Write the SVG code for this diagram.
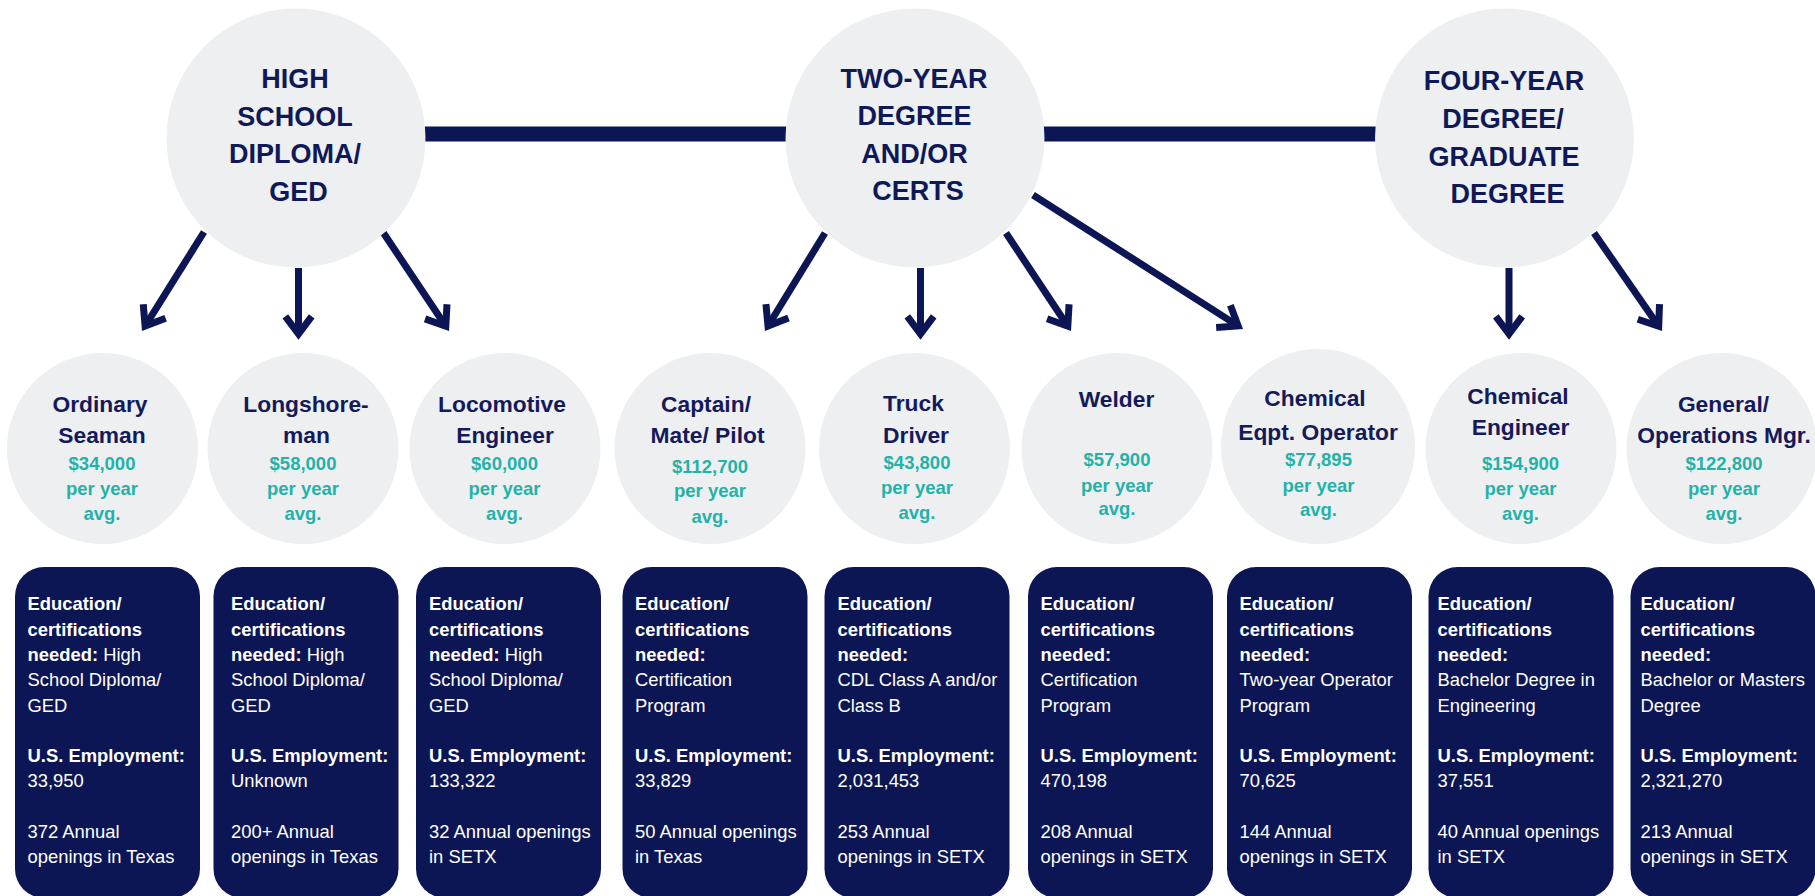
<svg xmlns="http://www.w3.org/2000/svg" width="1815" height="896" viewBox="0 0 1815 896">
<defs>
<style>
.circ{fill:#eeeff1}
.top{font-family:"Liberation Sans",Arial,sans-serif;font-weight:bold;font-size:27px;fill:#0f1957;text-anchor:middle}
.title{font-family:"Liberation Sans",Arial,sans-serif;font-weight:bold;font-size:22.8px;fill:#141a5a;text-anchor:middle}
.pay{font-family:"Liberation Sans",Arial,sans-serif;font-weight:bold;font-size:18.5px;fill:#1fb3aa;text-anchor:middle}
.box{fill:#0d1654}
.info{font-family:"Liberation Sans",Arial,sans-serif;font-size:18.4px;fill:#ffffff}
.b{font-weight:bold}
.bar{stroke:#0d1654;stroke-width:15}
.arr{stroke:#0d1654;stroke-width:7;fill:none;marker-end:url(#ah)}
</style>
<marker id="ah" markerUnits="userSpaceOnUse" orient="auto" markerWidth="40" markerHeight="40" refX="0" refY="0" style="overflow:visible">
<path d="M-17.6,-13.2 L0,0 L-17.6,13.2" fill="none" stroke="#0d1654" stroke-width="7" stroke-linejoin="miter"/>
</marker>
</defs>
<rect width="1815" height="896" fill="#ffffff"/>

<g id="connectors">
<line class="bar" x1="296" y1="134" x2="1504" y2="134"/>
<line class="arr" x1="204" y1="232" x2="145.1" y2="326.1"/>
<line class="arr" x1="298.5" y1="268" x2="298.5" y2="334"/>
<line class="arr" x1="383.5" y1="233" x2="445.8" y2="326.2"/>
<line class="arr" x1="825" y1="233" x2="768" y2="326"/>
<line class="arr" x1="920.5" y1="268" x2="920.5" y2="334"/>
<line class="arr" x1="1006" y1="233" x2="1067.8" y2="326.2"/>
<line class="arr" x1="1033" y1="195" x2="1238.1" y2="325.9"/>
<line class="arr" x1="1509" y1="268" x2="1509" y2="334"/>
<line class="arr" x1="1594" y1="233" x2="1658.7" y2="326.2"/>
</g>

<g id="level-hs">
<circle class="circ" cx="296" cy="138" r="129.5"/>
<text class="top"><tspan x="295" y="88">HIGH</tspan><tspan x="295" y="125.5">SCHOOL</tspan><tspan x="295" y="163">DIPLOMA/</tspan><tspan x="298.5" y="201">GED</tspan></text>
</g>
<g id="level-2yr">
<circle class="circ" cx="915" cy="138" r="129.5"/>
<text class="top"><tspan x="914" y="87.5">TWO-YEAR</tspan><tspan x="914.5" y="124.5">DEGREE</tspan><tspan x="914.5" y="162.5">AND/OR</tspan><tspan x="918" y="200">CERTS</tspan></text>
</g>
<g id="level-4yr">
<circle class="circ" cx="1504.5" cy="138" r="129.5"/>
<text class="top"><tspan x="1504" y="90">FOUR-YEAR</tspan><tspan x="1503" y="128">DEGREE/</tspan><tspan x="1504" y="165.5">GRADUATE</tspan><tspan x="1507.5" y="203">DEGREE</tspan></text>
</g>

<g id="job-seaman">
<circle class="circ" cx="102.5" cy="448.5" r="95.5"/>
<text class="title"><tspan x="100" y="411.5">Ordinary</tspan><tspan x="102" y="443">Seaman</tspan></text>
<text class="pay"><tspan x="102" y="470">$34,000</tspan><tspan x="102" y="495">per year</tspan><tspan x="102" y="519.5">avg.</tspan></text>
<rect class="box" x="15" y="567" width="185" height="331" rx="29"/>
<text class="info"><tspan class="b" x="27.5" y="610">Education/</tspan><tspan class="b" x="27.5" y="635.5">certifications</tspan><tspan x="27.5" y="661"><tspan class="b">needed:</tspan> High</tspan><tspan x="27.5" y="686">School Diploma/</tspan><tspan x="27.5" y="711.5">GED</tspan><tspan class="b" x="27.5" y="762">U.S. Employment:</tspan><tspan x="27.5" y="787">33,950</tspan><tspan x="27.5" y="838">372 Annual</tspan><tspan x="27.5" y="863">openings in Texas</tspan></text>
</g>

<g id="job-longshoreman">
<circle class="circ" cx="303" cy="448.5" r="95.5"/>
<text class="title"><tspan x="306" y="411.5">Longshore-</tspan><tspan x="306.5" y="443">man</tspan></text>
<text class="pay"><tspan x="303" y="470">$58,000</tspan><tspan x="303" y="495">per year</tspan><tspan x="303" y="519.5">avg.</tspan></text>
<rect class="box" x="213.5" y="567" width="185" height="331" rx="29"/>
<text class="info"><tspan class="b" x="231" y="610">Education/</tspan><tspan class="b" x="231" y="635.5">certifications</tspan><tspan x="231" y="661"><tspan class="b">needed:</tspan> High</tspan><tspan x="231" y="686">School Diploma/</tspan><tspan x="231" y="711.5">GED</tspan><tspan class="b" x="231" y="762">U.S. Employment:</tspan><tspan x="231" y="787">Unknown</tspan><tspan x="231" y="838">200+ Annual</tspan><tspan x="231" y="863">openings in Texas</tspan></text>
</g>

<g id="job-locomotive">
<circle class="circ" cx="505" cy="448.5" r="95.5"/>
<text class="title"><tspan x="502" y="411.5">Locomotive</tspan><tspan x="505" y="443">Engineer</tspan></text>
<text class="pay"><tspan x="504.5" y="470">$60,000</tspan><tspan x="504.5" y="495">per year</tspan><tspan x="504.5" y="519.5">avg.</tspan></text>
<rect class="box" x="416" y="567" width="185" height="331" rx="29"/>
<text class="info"><tspan class="b" x="429" y="610">Education/</tspan><tspan class="b" x="429" y="635.5">certifications</tspan><tspan x="429" y="661"><tspan class="b">needed:</tspan> High</tspan><tspan x="429" y="686">School Diploma/</tspan><tspan x="429" y="711.5">GED</tspan><tspan class="b" x="429" y="762">U.S. Employment:</tspan><tspan x="429" y="787">133,322</tspan><tspan x="429" y="838">32 Annual openings</tspan><tspan x="429" y="863">in SETX</tspan></text>
</g>

<g id="job-captain">
<circle class="circ" cx="710" cy="448.5" r="95.5"/>
<text class="title"><tspan x="706" y="411.5">Captain/</tspan><tspan x="707.5" y="443">Mate/ Pilot</tspan></text>
<text class="pay"><tspan x="710" y="472.5">$112,700</tspan><tspan x="710" y="497">per year</tspan><tspan x="710" y="522.5">avg.</tspan></text>
<rect class="box" x="622.5" y="567" width="185" height="331" rx="29"/>
<text class="info"><tspan class="b" x="635" y="610">Education/</tspan><tspan class="b" x="635" y="635.5">certifications</tspan><tspan class="b" x="635" y="661">needed:</tspan><tspan x="635" y="686">Certification</tspan><tspan x="635" y="711.5">Program</tspan><tspan class="b" x="635" y="762">U.S. Employment:</tspan><tspan x="635" y="787">33,829</tspan><tspan x="635" y="838">50 Annual openings</tspan><tspan x="635" y="863">in Texas</tspan></text>
</g>

<g id="job-truck">
<circle class="circ" cx="914.5" cy="448.5" r="95.5"/>
<text class="title"><tspan x="913.5" y="411">Truck</tspan><tspan x="916" y="443">Driver</tspan></text>
<text class="pay"><tspan x="917" y="468.5">$43,800</tspan><tspan x="917" y="494">per year</tspan><tspan x="917" y="518.5">avg.</tspan></text>
<rect class="box" x="824.5" y="567" width="185" height="331" rx="29"/>
<text class="info"><tspan class="b" x="837.5" y="610">Education/</tspan><tspan class="b" x="837.5" y="635.5">certifications</tspan><tspan class="b" x="837.5" y="661">needed:</tspan><tspan x="837.5" y="686">CDL Class A and/or</tspan><tspan x="837.5" y="711.5">Class B</tspan><tspan class="b" x="837.5" y="762">U.S. Employment:</tspan><tspan x="837.5" y="787">2,031,453</tspan><tspan x="837.5" y="838">253 Annual</tspan><tspan x="837.5" y="863">openings in SETX</tspan></text>
</g>

<g id="job-welder">
<circle class="circ" cx="1117" cy="448.5" r="95.5"/>
<text class="title"><tspan x="1116.5" y="406.5">Welder</tspan></text>
<text class="pay"><tspan x="1117" y="466">$57,900</tspan><tspan x="1117" y="491.5">per year</tspan><tspan x="1117" y="515">avg.</tspan></text>
<rect class="box" x="1028" y="567" width="185" height="331" rx="29"/>
<text class="info"><tspan class="b" x="1040.5" y="610">Education/</tspan><tspan class="b" x="1040.5" y="635.5">certifications</tspan><tspan class="b" x="1040.5" y="661">needed:</tspan><tspan x="1040.5" y="686">Certification</tspan><tspan x="1040.5" y="711.5">Program</tspan><tspan class="b" x="1040.5" y="762">U.S. Employment:</tspan><tspan x="1040.5" y="787">470,198</tspan><tspan x="1040.5" y="838">208 Annual</tspan><tspan x="1040.5" y="863">openings in SETX</tspan></text>
</g>

<g id="job-chem-operator">
<ellipse class="circ" cx="1318" cy="446.5" rx="97" ry="97.5"/>
<text class="title"><tspan x="1315" y="406">Chemical</tspan><tspan x="1318" y="439.5">Eqpt. Operator</tspan></text>
<text class="pay"><tspan x="1318.5" y="465.5">$77,895</tspan><tspan x="1318.5" y="491.5">per year</tspan><tspan x="1318.5" y="516">avg.</tspan></text>
<rect class="box" x="1227" y="567" width="185" height="331" rx="29"/>
<text class="info"><tspan class="b" x="1239.5" y="610">Education/</tspan><tspan class="b" x="1239.5" y="635.5">certifications</tspan><tspan class="b" x="1239.5" y="661">needed:</tspan><tspan x="1239.5" y="686">Two-year Operator</tspan><tspan x="1239.5" y="711.5">Program</tspan><tspan class="b" x="1239.5" y="762">U.S. Employment:</tspan><tspan x="1239.5" y="787">70,625</tspan><tspan x="1239.5" y="838">144 Annual</tspan><tspan x="1239.5" y="863">openings in SETX</tspan></text>
</g>

<g id="job-chem-engineer">
<circle class="circ" cx="1521" cy="448.5" r="95.5"/>
<text class="title"><tspan x="1518" y="403.5">Chemical</tspan><tspan x="1520.5" y="435">Engineer</tspan></text>
<text class="pay"><tspan x="1520.5" y="470">$154,900</tspan><tspan x="1520.5" y="495">per year</tspan><tspan x="1520.5" y="520">avg.</tspan></text>
<rect class="box" x="1428.5" y="567" width="185" height="331" rx="29"/>
<text class="info"><tspan class="b" x="1437.5" y="610">Education/</tspan><tspan class="b" x="1437.5" y="635.5">certifications</tspan><tspan class="b" x="1437.5" y="661">needed:</tspan><tspan x="1437.5" y="686">Bachelor Degree in</tspan><tspan x="1437.5" y="711.5">Engineering</tspan><tspan class="b" x="1437.5" y="762">U.S. Employment:</tspan><tspan x="1437.5" y="787">37,551</tspan><tspan x="1437.5" y="838">40 Annual openings</tspan><tspan x="1437.5" y="863">in SETX</tspan></text>
</g>

<g id="job-general-manager">
<circle class="circ" cx="1722" cy="448.5" r="95.5"/>
<text class="title"><tspan x="1723.5" y="411.5">General/</tspan><tspan x="1724" y="443">Operations Mgr.</tspan></text>
<text class="pay"><tspan x="1724" y="470">$122,800</tspan><tspan x="1724" y="495">per year</tspan><tspan x="1724" y="520">avg.</tspan></text>
<rect class="box" x="1630.5" y="567" width="185" height="331" rx="29"/>
<text class="info"><tspan class="b" x="1640.5" y="610">Education/</tspan><tspan class="b" x="1640.5" y="635.5">certifications</tspan><tspan class="b" x="1640.5" y="661">needed:</tspan><tspan x="1640.5" y="686">Bachelor or Masters</tspan><tspan x="1640.5" y="711.5">Degree</tspan><tspan class="b" x="1640.5" y="762">U.S. Employment:</tspan><tspan x="1640.5" y="787">2,321,270</tspan><tspan x="1640.5" y="838">213 Annual</tspan><tspan x="1640.5" y="863">openings in SETX</tspan></text>
</g>
</svg>
